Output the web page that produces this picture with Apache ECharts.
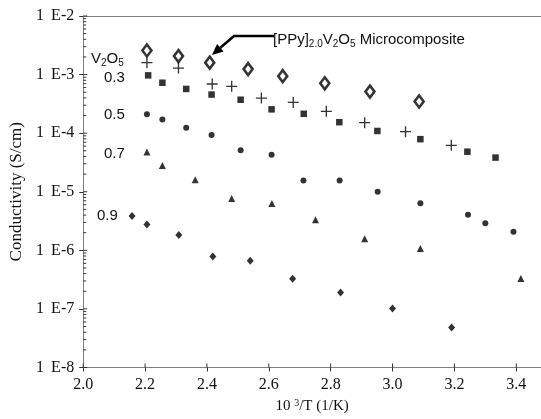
<!DOCTYPE html>
<html><head><meta charset="utf-8">
<script src="https://cdn.jsdelivr.net/npm/echarts@6/dist/echarts.min.js"></script>
<style>html,body{margin:0;padding:0;background:#fff}#c{width:541px;height:419px}</style>
</head><body><div id="c"></div>
<script>
// Data (x = 10^3/T in 1/K, y = conductivity in S/cm)
const ppyX = [2.206, 2.308, 2.409, 2.533, 2.645, 2.781, 2.927, 3.086];
const ppyY = [2.58e-3, 2.07e-3, 1.60e-3, 1.24e-3, 9.4e-4, 7.1e-4, 5.13e-4, 3.48e-4];
const v2o5X = [2.206, 2.308, 2.417, 2.480, 2.576, 2.679, 2.786, 2.910, 3.042, 3.190];
const v2o5Y = [1.60e-3, 1.29e-3, 6.9e-4, 6.3e-4, 3.97e-4, 3.35e-4, 2.36e-4, 1.51e-4, 1.06e-4, 6.2e-5];
const s03X = [2.210, 2.256, 2.333, 2.415, 2.509, 2.609, 2.713, 2.828, 2.951, 3.090, 3.242, 3.333];
const s03Y = [9.7e-4, 7.26e-4, 5.69e-4, 4.56e-4, 3.72e-4, 2.55e-4, 2.14e-4, 1.54e-4, 1.09e-4, 7.9e-5, 4.83e-5, 3.83e-5];
const s05X = [2.206, 2.256, 2.333, 2.415, 2.509, 2.609, 2.712, 2.829, 2.952, 3.090, 3.244, 3.300, 3.391];
const s05Y = [2.10e-4, 1.71e-4, 1.24e-4, 9.3e-5, 5.1e-5, 4.3e-5, 1.55e-5, 1.55e-5, 1.0e-5, 6.37e-6, 4.05e-6, 2.9e-6, 2.07e-6];
const s07X = [2.206, 2.256, 2.362, 2.480, 2.610, 2.751, 2.910, 3.090, 3.415];
const s07Y = [4.78e-5, 2.8e-5, 1.61e-5, 7.7e-6, 6.3e-6, 3.33e-6, 1.58e-6, 1.07e-6, 3.32e-7];
const s09X = [2.158, 2.206, 2.309, 2.419, 2.540, 2.677, 2.832, 3.000, 3.191];
const s09Y = [3.85e-6, 2.75e-6, 1.82e-6, 7.87e-7, 6.65e-7, 3.27e-7, 1.9e-7, 1.02e-7, 4.83e-8];

const xTickValues = [2.0, 2.2, 2.4, 2.6, 2.8, 3.0, 3.2, 3.4];
const xTickLabels = ['2.0','2.2','2.4','2.6','2.8','3.0','3.2','3.4'];
const yTickValues = [1e-8, 1e-7, 1e-6, 1e-5, 1e-4, 1e-3, 1e-2];
const yTickLabels = ['1 \u2009E-8','1 \u2009E-7','1 \u2009E-6','1 \u2009E-5','1 \u2009E-4','1 \u2009E-3','1 \u2009E-2'];
const minorTickValues = [];
for (let e = -8; e < -2; e++) for (let m = 2; m <= 9; m++) minorTickValues.push(m * Math.pow(10, e));

const pair = (xs, ys) => xs.map((x, i) => [x, ys[i]]);
const plusPath = 'path://M4.4,0h1.2v4.4h4.4v1.2h-4.4v4.4h-1.2v-4.4h-4.4v-1.2h4.4z';

const serif = '"Liberation Serif","Times New Roman",serif';
const sans = '"Liberation Sans",Arial,sans-serif';
const X_MIN = 2.0, X_MAX = 3.48, Y_MIN = 1e-8;

const chart = echarts.init(document.getElementById('c'), null, {renderer: 'canvas'});

function scat(name, xs, ys, symbol, size, style) {
  return {name, type: 'scatter', data: pair(xs, ys), symbol, symbolSize: size,
    itemStyle: style, silent: true, z: 3, clip: false};
}
function tickSeries(data, draw) {
  return {type: 'custom', silent: true, clip: false, z: 1, data,
    renderItem: (params, api) => draw(api.coord([api.value(0), api.value(1)]))};
}
const tickStyle = {stroke: '#333', lineWidth: 1};

const option = {
  backgroundColor: '#fff',
  animation: false,
  grid: {left: 80, right: 0, top: 16, bottom: 46},
  xAxis: [{
    type: 'value', min: X_MIN, max: X_MAX, interval: 0.2,
    axisLine: {show: true, lineStyle: {color: '#808080', width: 1}},
    axisTick: {show: true, inside: false, length: 4, lineStyle: {color: '#333'}},
    splitLine: {show: false},
    axisLabel: {showMaxLabel: false, margin: 9, color: '#111', fontFamily: serif, fontSize: 16,
      formatter: v => { const i = xTickValues.findIndex(t => Math.abs(t - v) < 1e-6); return i >= 0 ? xTickLabels[i] : ''; }},
    name: '10 {sup|3}/T (1/K)', nameLocation: 'middle', nameGap: 31,
    nameTextStyle: {color: '#111', fontFamily: serif, fontSize: 15,
      rich: {sup: {fontFamily: serif, fontSize: 10, verticalAlign: 'top', padding: [0,0,6,0], color: '#111'}}}
  }, {
    type: 'value', position: 'top', min: X_MIN, max: X_MAX,
    axisLine: {show: true, lineStyle: {color: '#808080', width: 1}},
    axisTick: {show: false}, axisLabel: {show: false}, splitLine: {show: false}
  }],
  yAxis: {
    type: 'log', logBase: 10, min: Y_MIN, max: 1e-2,
    axisLine: {show: true, lineStyle: {color: '#808080', width: 1}},
    axisTick: {show: true, inside: false, length: 4, lineStyle: {color: '#333'}},
    minorTick: {show: false},
    splitLine: {show: false},
    axisLabel: {margin: 9, color: '#111', fontFamily: serif, fontSize: 16,
      formatter: v => { const i = yTickValues.findIndex(t => Math.abs(Math.log10(t) - Math.log10(v)) < 1e-6); return i >= 0 ? yTickLabels[i] : ''; }},
    name: 'Conductivity (S/cm)', nameLocation: 'middle', nameGap: 58, nameRotate: 90,
    nameTextStyle: {color: '#111', fontFamily: serif, fontSize: 17}
  },
  series: [
    // minor ticks on the log axis (2..9 of each decade), inside
    tickSeries(minorTickValues.map(v => [X_MIN, v]),
      p => ({type: 'line', shape: {x1: p[0], y1: p[1], x2: p[0] + 3, y2: p[1]}, style: tickStyle})),
    // inner half of the major y ticks (they cross the axis)
    tickSeries(yTickValues.map(v => [X_MIN, v]),
      p => ({type: 'line', shape: {x1: p[0], y1: p[1], x2: p[0] + 4, y2: p[1]}, style: tickStyle})),
    // inner half of the x ticks
    tickSeries(xTickValues.map(v => [v, Y_MIN]),
      p => ({type: 'line', shape: {x1: p[0], y1: p[1], x2: p[0], y2: p[1] - 4}, style: tickStyle})),
    scat('[PPy]2.0V2O5', ppyX, ppyY, 'diamond', [9, 12], {color: '#fff', borderColor: '#000', borderWidth: 2.6}),
    scat('V2O5', v2o5X, v2o5Y, plusPath, 11, {color: '#000'}),
    scat('0.3', s03X, s03Y, 'rect', 6.5, {color: '#000'}),
    scat('0.5', s05X, s05Y, 'circle', 6, {color: '#000'}),
    scat('0.7', s07X, s07Y, 'triangle', 7, {color: '#000'}),
    scat('0.9', s09X, s09Y, 'diamond', [7, 8], {color: '#000'})
  ]
};
chart.setOption(option);

// Annotations
const subRich = {
  a: {fontFamily: sans, fontSize: 15, lineHeight: 18, color: '#111'},
  s: {fontFamily: sans, fontSize: 10, lineHeight: 10, verticalAlign: 'bottom', padding: [9,0,0,0], color: '#111'}
};
function label(text, x, y) {
  return {type: 'text', x, y, silent: true, z: 10,
    style: {text, rich: subRich, fontFamily: sans, fontSize: 15, fill: '#111', verticalAlign: 'middle', align: 'left'}};
}
const tip = [212, 55], bend = [234, 36], start = [274, 36];
const dx = tip[0] - bend[0], dy = tip[1] - bend[1], L = Math.hypot(dx, dy);
const ux = dx / L, uy = dy / L, hl = 11, hw = 5;
const base = [tip[0] - ux * hl, tip[1] - uy * hl];
chart.setOption({graphic: [
  label('{a|V}{s|2}{a|O}{s|5}', 91, 59),
  label('{a|0.3}', 104, 78),
  label('{a|0.5}', 104, 115),
  label('{a|0.7}', 104, 154),
  label('{a|0.9}', 97, 216),
  label('{a|[PPy]}{s|2.0}{a|V}{s|2}{a|O}{s|5}{a| Microcomposite}', 273, 40),
  {type: 'polyline', silent: true, z: 10,
    shape: {points: [start, bend, base]}, style: {stroke: '#000', lineWidth: 2.5, fill: null}},
  {type: 'polygon', silent: true, z: 10,
    shape: {points: [tip, [base[0] - uy * hw, base[1] + ux * hw], [base[0] + uy * hw, base[1] - ux * hw]]},
    style: {fill: '#000'}}
]});
</script></body></html>
